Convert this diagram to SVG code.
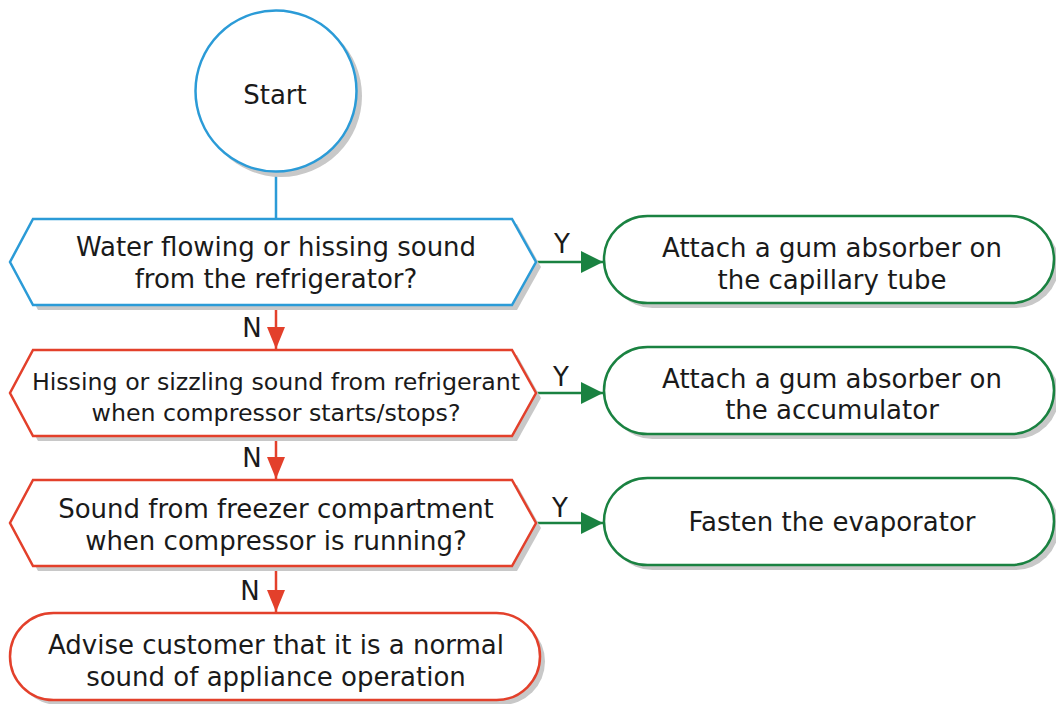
<svg xmlns="http://www.w3.org/2000/svg" width="1056" height="704" viewBox="0 0 1056 704">
<style>
.sh{fill:#c8c8c8;stroke:none}
.nd{fill:#fff;stroke-width:2.5}
.b{stroke:#2b9bd7}
.r{stroke:#e3402b}
.g{stroke:#1a8241}
text{font-family:"DejaVu Sans","Noto Sans","Liberation Sans",sans-serif;font-size:26px;fill:#1a1a1a;text-anchor:middle}
.sm{font-size:23.7px}
.lbl{font-size:26px}
.cr{stroke:#e3402b;stroke-width:2.5;fill:none}
.cg{stroke:#1a8241;stroke-width:2.5;fill:none}
.cb{stroke:#2b9bd7;stroke-width:2.5;fill:none}
</style>
<defs>
<marker id="ar" viewBox="0 0 22 18" refX="22" refY="9" markerWidth="22" markerHeight="18" markerUnits="userSpaceOnUse" orient="auto"><path d="M0,0 L22,9 L0,18 Z" fill="#e3402b"/></marker>
<marker id="ag" viewBox="0 0 22 22" refX="22" refY="11" markerWidth="22" markerHeight="22" markerUnits="userSpaceOnUse" orient="auto"><path d="M0,0 L22,11 L0,22 Z" fill="#1a8241"/></marker>
</defs>
<g id="connectors">
<line class="cb" x1="276" y1="171" x2="276" y2="219"/>
<line class="cr" x1="276" y1="305" x2="276" y2="349" marker-end="url(#ar)"/>
<line class="cr" x1="276" y1="436" x2="276" y2="479" marker-end="url(#ar)"/>
<line class="cr" x1="276" y1="566" x2="276" y2="612" marker-end="url(#ar)"/>
<line class="cg" x1="536" y1="262" x2="603" y2="262" marker-end="url(#ag)"/>
<line class="cg" x1="536" y1="393" x2="603" y2="393" marker-end="url(#ag)"/>
<line class="cg" x1="536" y1="523" x2="603" y2="523" marker-end="url(#ag)"/>
<text class="lbl" x="252" y="337">N</text>
<text class="lbl" x="252" y="467">N</text>
<text class="lbl" x="250" y="600">N</text>
<text class="lbl" x="562" y="253">Y</text>
<text class="lbl" x="561" y="386">Y</text>
<text class="lbl" x="560" y="517">Y</text>
</g>
<g id="start">
<circle class="sh" cx="281" cy="96" r="81"/>
<circle class="nd b" cx="276" cy="91" r="80.5"/>
<text x="275" y="104">Start</text>
</g>
<g id="q1">
<polygon class="sh" points="38,224 517,224 541,267 517,310 38,310 15,267"/>
<polygon class="nd b" points="33,219 512,219 536,262 512,305 33,305 10,262"/>
<text x="276" y="256">Water flowing or hissing sound</text>
<text x="276" y="288">from the refrigerator?</text>
</g>
<g id="q2">
<polygon class="sh" points="38,355 517,355 541,398 517,441 38,441 15,398"/>
<polygon class="nd r" points="33,350 512,350 536,393 512,436 33,436 10,393"/>
<text class="sm" x="276" y="390">Hissing or sizzling sound from refrigerant</text>
<text class="sm" x="276" y="421">when compressor starts/stops?</text>
</g>
<g id="q3">
<polygon class="sh" points="38,485 517,485 541,528 517,571 38,571 15,528"/>
<polygon class="nd r" points="33,480 512,480 536,523 512,566 33,566 10,523"/>
<text x="276" y="518">Sound from freezer compartment</text>
<text x="276" y="550">when compressor is running?</text>
</g>
<g id="a1">
<rect class="sh" x="609" y="221" width="450" height="87" rx="43.5"/>
<rect class="nd g" x="604" y="216" width="450" height="87" rx="43.5"/>
<text x="832" y="257">Attach a gum absorber on</text>
<text x="832" y="289">the capillary tube</text>
</g>
<g id="a2">
<rect class="sh" x="609" y="352" width="450" height="87" rx="43.5"/>
<rect class="nd g" x="604" y="347" width="450" height="87" rx="43.5"/>
<text x="832" y="388">Attach a gum absorber on</text>
<text x="832" y="419">the accumulator</text>
</g>
<g id="a3">
<rect class="sh" x="609" y="483" width="450" height="87" rx="43.5"/>
<rect class="nd g" x="604" y="478" width="450" height="87" rx="43.5"/>
<text x="832" y="531">Fasten the evaporator</text>
</g>
<g id="end">
<rect class="sh" x="15" y="618" width="530" height="87" rx="43.5"/>
<rect class="nd r" x="10" y="613" width="530" height="87" rx="43.5"/>
<text x="276" y="654">Advise customer that it is a normal</text>
<text x="276" y="686">sound of appliance operation</text>
</g>
</svg>
